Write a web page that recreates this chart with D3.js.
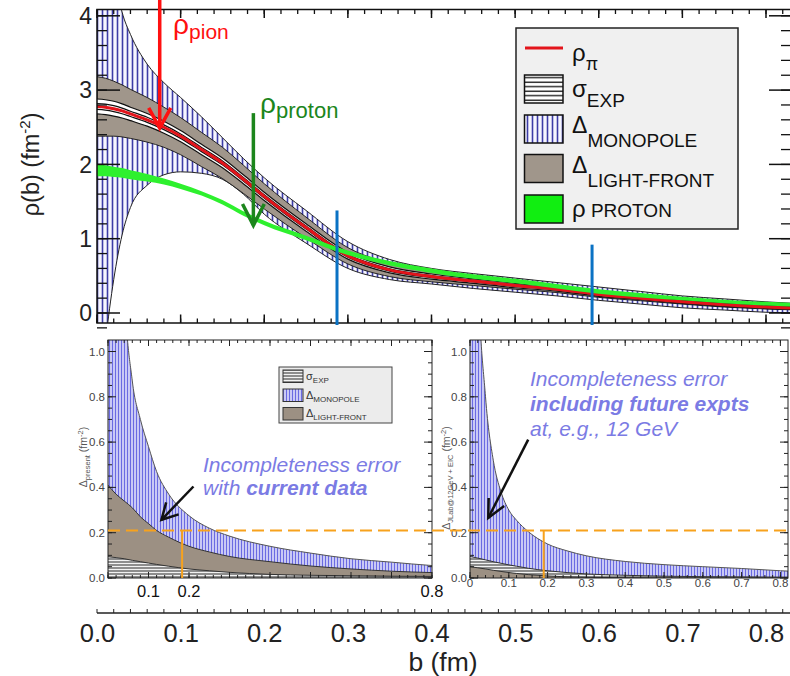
<!DOCTYPE html>
<html>
<head>
<meta charset="utf-8">
<script src="https://cdn.jsdelivr.net/npm/d3@7"></script>
<style>
  body { margin: 0; background: #fff; }
  svg { display: block; }
  text { font-family: "Liberation Sans", Arial, Helvetica, sans-serif; }
</style>
</head>
<body>
<svg id="chart" width="790" height="676"></svg>
<script>
// ---------------- data : pion / proton transverse charge densities ----------------
const bGrid = [0, 0.01, 0.02, 0.03, 0.04, 0.06, 0.08, 0.10, 0.125, 0.15, 0.175, 0.20, 0.25, 0.30, 0.35, 0.40, 0.45, 0.50, 0.55, 0.60, 0.65, 0.70, 0.75, 0.80, 0.85];
const rhoPion = [2.78, 2.77, 2.75, 2.72, 2.68, 2.60, 2.50, 2.38, 2.20, 2.02, 1.80, 1.57, 1.15, 0.77, 0.58, 0.49, 0.43, 0.37, 0.32, 0.25, 0.20, 0.15, 0.11, 0.08, 0.06];
const sigmaLo = [2.68, 2.67, 2.65, 2.625, 2.59, 2.515, 2.42, 2.305, 2.13, 1.955, 1.74, 1.515, 1.10, 0.725, 0.54, 0.455, 0.40, 0.34, 0.295, 0.225, 0.18, 0.13, 0.09, 0.06, 0.04];
const sigmaHi = [2.88, 2.87, 2.85, 2.815, 2.77, 2.685, 2.58, 2.455, 2.27, 2.085, 1.86, 1.625, 1.20, 0.815, 0.62, 0.525, 0.46, 0.40, 0.345, 0.275, 0.22, 0.17, 0.13, 0.10, 0.08];
const lightFrontLo = [2.38, 2.38, 2.38, 2.37, 2.35, 2.30, 2.23, 2.13, 1.97, 1.81, 1.61, 1.40, 1.01, 0.66, 0.49, 0.42, 0.37, 0.32, 0.275, 0.21, 0.165, 0.12, 0.08, 0.055, 0.035];
const lightFrontHi = [3.18, 3.16, 3.12, 3.07, 3.01, 2.90, 2.77, 2.63, 2.43, 2.23, 1.99, 1.74, 1.29, 0.88, 0.67, 0.56, 0.49, 0.42, 0.365, 0.29, 0.235, 0.18, 0.14, 0.105, 0.085];
const monopoleLo = [-1.5, -0.4, 0.45, 1.05, 1.42, 1.72, 1.86, 1.90, 1.88, 1.80, 1.60, 1.33, 0.94, 0.60, 0.45, 0.39, 0.33, 0.28, 0.23, 0.17, 0.12, 0.07, 0.04, 0.01, 0.00];
const monopoleHi = [9.0, 6.5, 4.6, 4.05, 3.75, 3.35, 3.10, 2.90, 2.64, 2.36, 2.08, 1.82, 1.38, 0.96, 0.72, 0.60, 0.53, 0.47, 0.41, 0.35, 0.29, 0.23, 0.19, 0.15, 0.12];
const protonLo = [1.84, 1.84, 1.83, 1.82, 1.80, 1.77, 1.73, 1.67, 1.58, 1.46, 1.31, 1.18, 0.98, 0.78, 0.64, 0.54, 0.46, 0.40, 0.33, 0.26, 0.21, 0.17, 0.13, 0.10, 0.08];
const protonHi = [2.00, 1.99, 1.97, 1.95, 1.92, 1.87, 1.81, 1.74, 1.64, 1.52, 1.37, 1.24, 1.04, 0.84, 0.70, 0.60, 0.52, 0.46, 0.39, 0.32, 0.27, 0.22, 0.18, 0.15, 0.13];

// impact parameters marked by vertical bars, and arrow anchors (b, rho)
const bMarkers = [{ b: 0.287, top: 1.38 }, { b: 0.592, top: 0.92 }];
const pionArrow = { b: 0.075, from: 4.3, to: 2.49 };
const protonArrow = { b: 0.187, from: 2.69, to: 1.18 };

// ---------------- data : incompleteness errors ----------------
const bLow = [0, 0.02, 0.04, 0.06, 0.08, 0.10, 0.12, 0.15, 0.20, 0.25, 0.30, 0.40, 0.50, 0.60, 0.70, 0.80, 0.85];
const monoPresent = [4.0, 2.6, 1.3, 0.87, 0.70, 0.58, 0.47, 0.37, 0.275, 0.22, 0.185, 0.14, 0.11, 0.085, 0.07, 0.055, 0.05];
const lfPresent = [0.41, 0.37, 0.34, 0.31, 0.27, 0.24, 0.21, 0.18, 0.14, 0.115, 0.095, 0.072, 0.053, 0.04, 0.03, 0.024, 0.022];
const sigPresent = [0.094, 0.09, 0.085, 0.078, 0.072, 0.066, 0.06, 0.052, 0.04, 0.032, 0.025, 0.016, 0.012, 0.01, 0.008, 0.007, 0.007];
const monoFuture = [4.0, 1.4, 0.8, 0.52, 0.38, 0.30, 0.255, 0.205, 0.15, 0.12, 0.098, 0.073, 0.059, 0.05, 0.042, 0.032, 0.028];
const sigFuture = [0.095, 0.088, 0.08, 0.072, 0.065, 0.058, 0.052, 0.043, 0.032, 0.024, 0.018, 0.012, 0.008, 0.006, 0.005, 0.004, 0.004];
const lfFuture = [0.05, 0.045, 0.04, 0.034, 0.029, 0.024, 0.02, 0.015, 0.009, 0.005, 0.003, 0.001, 0, 0, 0, 0, 0];
const errorLevel = 0.21;          // dashed reference level
const bCutPresent = 0.183, bCutFuture = 0.19;
const arrowPresent = { from: [0.211, 0.404], to: [0.132, 0.257] };
const arrowFuture = { from: [0.150, 0.611], to: [0.047, 0.265] };

// ---------------- tick values ----------------
const topYTicks = [0, 1, 2, 3, 4];
const topYMinor = d3.range(-0.2, 4.1, 0.2);
const bTicksMajor = [0, 0.1, 0.2, 0.3, 0.4, 0.5, 0.6, 0.7, 0.8];
const bTicksMinor = d3.range(0, 0.84, 0.02);
const lowYTicks = [0, 0.2, 0.4, 0.6, 0.8, 1.0];
const lowYMinor = d3.range(0, 1.05, 0.05);
const leftPanelXLabels = [0.1, 0.2, 0.8];

// ---------------- layout & scales ----------------
const svg = d3.select("#chart");
const defs = svg.append("defs");
const FRAME_TOP = { l: 97, r: 792, t: 9.5, b: 323 };
const xTop = d3.scaleLinear().domain([0, 0.8]).range([97, 766]);
const yTop = d3.scaleLinear().domain([0, 4]).range([313, 15.8]);
const FRAME_L = { l: 108, r: 432, t: 340, b: 578 };
const FRAME_R = { l: 470, r: 788, t: 340, b: 578 };
const xL = d3.scaleLinear().domain([0, 0.8]).range([108, 432]);
const xR = d3.scaleLinear().domain([0, 0.8]).range([470, 780.4]);
const yLow = d3.scaleLinear().domain([0, 1]).range([578, 351.5]);

svg.append("rect").attr("width", 790).attr("height", 676).attr("fill", "#fff");

// ---------------- patterns ----------------
function pattern(id, w, h, bg, lines) {
  const p = defs.append("pattern").attr("id", id).attr("patternUnits", "userSpaceOnUse")
    .attr("width", w).attr("height", h);
  p.append("rect").attr("width", w).attr("height", h).attr("fill", bg);
  lines.forEach(l => p.append("line").attr("x1", l[0]).attr("y1", l[1]).attr("x2", l[2]).attr("y2", l[3])
    .attr("stroke", l[4]).attr("stroke-width", l[5]));
}
pattern("monoTop", 5, 8, "#f6f6ff", [[2.5, 0, 2.5, 8, "#3c3ca6", 1.6]]);
pattern("sigTop", 8, 4.5, "#ffffff", [[0, 1.2, 8, 1.2, "#111", 1.3]]);
pattern("monoLow", 3, 8, "#d4d4f8", [[1.5, 0, 1.5, 8, "#6a6ae2", 1.2]]);
pattern("sigLow", 8, 3, "#f2f2f2", [[0, 1, 8, 1, "#3a3a3a", 1.1]]);

function clip(id, f) {
  defs.append("clipPath").attr("id", id).append("rect")
    .attr("x", f.l).attr("y", f.t).attr("width", f.r - f.l).attr("height", f.b - f.t);
}
clip("clipTop", FRAME_TOP);
clip("clipL", FRAME_L);
clip("clipR", FRAME_R);

// generic inward tick marks on a frame side
function tickMarks(g, scale, values, side, pos, len, color, width) {
  g.append("g").selectAll("line").data(values).join("line")
    .attr("x1", d => (side === "top" || side === "bottom") ? scale(d) : pos)
    .attr("x2", d => (side === "top" || side === "bottom") ? scale(d)
      : pos + (side === "left" ? len : -len))
    .attr("y1", d => (side === "left" || side === "right") ? scale(d) : pos)
    .attr("y2", d => (side === "left" || side === "right") ? scale(d)
      : pos + (side === "top" ? len : -len))
    .attr("stroke", color).attr("stroke-width", width);
}

// ================= TOP PANEL : rho(b) =================
const rows = bGrid.map((b, i) => ({
  b, rho: rhoPion[i], sLo: sigmaLo[i], sHi: sigmaHi[i], lLo: lightFrontLo[i], lHi: lightFrontHi[i],
  mLo: monopoleLo[i], mHi: monopoleHi[i], pLo: protonLo[i], pHi: protonHi[i]
}));
const band = (lo, hi) => d3.area().x(d => xTop(d.b)).y0(d => yTop(d[lo])).y1(d => yTop(d[hi])).curve(d3.curveMonotoneX);
const curve = f => d3.line().x(d => xTop(d.b)).y(d => yTop(f(d))).curve(d3.curveMonotoneX);

const gt = svg.append("g").attr("clip-path", "url(#clipTop)");
// monopole uncertainty (vertical hatching)
gt.append("path").datum(rows).attr("d", band("mLo", "mHi")).attr("fill", "url(#monoTop)");
gt.append("path").datum(rows).attr("d", curve(d => d.mLo)).attr("fill", "none").attr("stroke", "#222").attr("stroke-width", 1);
gt.append("path").datum(rows).attr("d", curve(d => d.mHi)).attr("fill", "none").attr("stroke", "#222").attr("stroke-width", 1);
// light-front uncertainty
gt.append("path").datum(rows).attr("d", band("lLo", "lHi")).attr("fill", "#a0968b")
  .attr("stroke", "#222").attr("stroke-width", 1);
// experimental uncertainty, striped along the curve
gt.append("path").datum(rows).attr("d", band("sLo", "sHi")).attr("fill", "#fff");
[0, 0.3, 0.7, 1].forEach(t => {
  gt.append("path").datum(rows).attr("d", curve(d => d.sLo + t * (d.sHi - d.sLo)))
    .attr("fill", "none").attr("stroke", "#111").attr("stroke-width", 1.2);
});
// pion central density
gt.append("path").datum(rows).attr("d", curve(d => d.rho)).attr("fill", "none")
  .attr("stroke", "#e3141b").attr("stroke-width", 3);
// proton density
gt.append("path").datum(rows).attr("d", band("pLo", "pHi")).attr("fill", "#2ef02e");

// frame and ticks
const ft = svg.append("g");
ft.append("rect").attr("x", FRAME_TOP.l).attr("y", FRAME_TOP.t)
  .attr("width", FRAME_TOP.r - FRAME_TOP.l).attr("height", FRAME_TOP.b - FRAME_TOP.t)
  .attr("fill", "none").attr("stroke", "#111").attr("stroke-width", 1.5);
tickMarks(ft, xTop, bTicksMinor, "bottom", FRAME_TOP.b, 4.5, "#111", 1.3);
tickMarks(ft, xTop, bTicksMajor, "bottom", FRAME_TOP.b, 8.5, "#111", 1.5);
tickMarks(ft, xTop, bTicksMinor, "top", FRAME_TOP.t, 4.5, "#111", 1.3);
tickMarks(ft, xTop, bTicksMajor, "top", FRAME_TOP.t, 8.5, "#111", 1.5);
tickMarks(ft, yTop, topYMinor, "left", FRAME_TOP.l, 10, "#111", 1.3);
tickMarks(ft, yTop, topYTicks, "left", FRAME_TOP.l, 23, "#111", 1.5);
tickMarks(ft, yTop, topYMinor, "right", FRAME_TOP.r, 11, "#111", 1.3);
tickMarks(ft, yTop, topYTicks, "right", FRAME_TOP.r, 23, "#111", 1.5);

// y tick labels
ft.append("g").selectAll("text").data(topYTicks).join("text")
  .attr("x", 92).attr("y", d => yTop(d)).attr("dy", "0.36em")
  .attr("text-anchor", "end").attr("font-size", 23).attr("fill", "#222").text(d => d);

// y title
const yt = ft.append("text").attr("transform", `translate(39,${yTop(2.0)}) rotate(-90)`)
  .attr("text-anchor", "middle").attr("font-size", 23.5).attr("fill", "#222");
yt.append("tspan").text("ρ(b) (fm");
yt.append("tspan").attr("font-size", 15).attr("dy", -9).text("-2");
yt.append("tspan").attr("dy", 9).text(")");

// marker bars
svg.append("g").selectAll("line").data(bMarkers).join("line")
  .attr("x1", d => xTop(d.b)).attr("x2", d => xTop(d.b))
  .attr("y1", d => yTop(d.top)).attr("y2", FRAME_TOP.b + 2)
  .attr("stroke", "#0a72c4").attr("stroke-width", 3);

// arrows with open heads
function arrow(g, x1, y1, x2, y2, color, w, headLen, headAng) {
  g.append("line").attr("x1", x1).attr("y1", y1).attr("x2", x2).attr("y2", y2)
    .attr("stroke", color).attr("stroke-width", w);
  const a = Math.atan2(y1 - y2, x1 - x2);
  const p1 = [x2 + headLen * Math.cos(a + headAng), y2 + headLen * Math.sin(a + headAng)];
  const p2 = [x2 + headLen * Math.cos(a - headAng), y2 + headLen * Math.sin(a - headAng)];
  g.append("polyline").attr("points", [p1, [x2, y2], p2].map(p => p.join(",")).join(" "))
    .attr("fill", "none").attr("stroke", color).attr("stroke-width", w)
    .attr("stroke-linejoin", "miter");
}
const ga = svg.append("g");
arrow(ga, xTop(pionArrow.b), yTop(pionArrow.from), xTop(pionArrow.b), yTop(pionArrow.to), "#ff1010", 3.5, 23, 0.5);
arrow(ga, xTop(protonArrow.b), yTop(protonArrow.from), xTop(protonArrow.b), yTop(protonArrow.to), "#1c861c", 3.5, 24, 0.47);

// curve labels
const lp = ga.append("text").attr("x", xTop(0.091)).attr("y", yTop(3.75)).attr("fill", "#ff1010");
lp.append("tspan").attr("font-size", 28).text("ρ");
lp.append("tspan").attr("font-size", 21).attr("dy", 5).text("pion");
const lpr = ga.append("text").attr("x", xTop(0.195)).attr("y", yTop(2.69)).attr("fill", "#1c861c");
lpr.append("tspan").attr("font-size", 28).text("ρ");
lpr.append("tspan").attr("font-size", 22).attr("dy", 5).text("proton");

// legend
const lg = svg.append("g");
lg.append("rect").attr("x", 516).attr("y", 28).attr("width", 222).attr("height", 201)
  .attr("fill", "#f0f0f0").attr("stroke", "#222").attr("stroke-width", 1.5);
lg.append("line").attr("x1", 525).attr("x2", 563).attr("y1", 48).attr("y2", 48)
  .attr("stroke", "#e3141b").attr("stroke-width", 3);
const swatches = [
  { y: 75, fill: "url(#sigTop)" },
  { y: 115, fill: "url(#monoTop)" },
  { y: 154.5, fill: "#a0968b" },
  { y: 195, fill: "#11ee11" }
];
lg.selectAll("rect.sw").data(swatches).join("rect").attr("class", "sw")
  .attr("x", 524.5).attr("y", d => d.y).attr("width", 38.5).attr("height", 28)
  .attr("fill", d => d.fill).attr("stroke", "#111").attr("stroke-width", 1.5);
function legendText(g, x, y, big, small, dy, bigSize, smallSize) {
  const t = g.append("text").attr("x", x).attr("y", y).attr("fill", "#111");
  t.append("tspan").attr("font-size", bigSize).text(big);
  t.append("tspan").attr("font-size", smallSize).attr("dy", dy).text(small);
  return t;
}
legendText(lg, 572, 61, "ρ", "π", 9, 24, 18);
legendText(lg, 572, 97, "σ", "EXP", 10, 24, 19);
legendText(lg, 572, 133, "Δ", "MONOPOLE", 14, 23, 19);
legendText(lg, 572, 173, "Δ", "LIGHT-FRONT", 14, 23, 19);
legendText(lg, 572, 217, "ρ", " PROTON", 0, 24, 19);

// ================= LOWER PANELS =================
// layerOrder: drawn back to front, each area filled from zero
function lowerPanel(id, frame, xs, mono, lf, sig, layerOrder) {
  const data = bLow.map((b, i) => ({ b, m: mono[i], l: lf[i], s: sig[i] }));
  const g = svg.append("g");
  g.append("rect").attr("x", frame.l).attr("y", frame.t).attr("width", frame.r - frame.l)
    .attr("height", frame.b - frame.t).attr("fill", "#fff");
  const gc = g.append("g").attr("clip-path", `url(#${id})`);
  const area = key => d3.area().x(d => xs(d.b)).y0(yLow(0)).y1(d => yLow(d[key])).curve(d3.curveMonotoneX);
  const edge = key => d3.line().x(d => xs(d.b)).y(d => yLow(d[key])).curve(d3.curveMonotoneX);
  gc.append("path").datum(data).attr("d", area("m")).attr("fill", "url(#monoLow)");
  gc.append("path").datum(data).attr("d", edge("m")).attr("fill", "none").attr("stroke", "#555").attr("stroke-width", 1);
  layerOrder.forEach(k => {
    gc.append("path").datum(data).attr("d", area(k))
      .attr("fill", k === "l" ? "#9c9083" : "url(#sigLow)");
    gc.append("path").datum(data).attr("d", edge(k)).attr("fill", "none").attr("stroke", "#333").attr("stroke-width", 1);
  });
  // frame + ticks
  g.append("rect").attr("x", frame.l).attr("y", frame.t).attr("width", frame.r - frame.l)
    .attr("height", frame.b - frame.t).attr("fill", "none").attr("stroke", "#222").attr("stroke-width", 1);
  const minorX = bTicksMinor.filter(v => xs(v) <= frame.r);
  const majorX = bTicksMajor.filter(v => xs(v) <= frame.r);
  tickMarks(g, xs, minorX, "top", frame.t, 3, "#222", 1);
  tickMarks(g, xs, majorX, "top", frame.t, 6, "#222", 1);
  tickMarks(g, xs, minorX, "bottom", frame.b, 3, "#222", 1);
  tickMarks(g, xs, majorX, "bottom", frame.b, 6, "#222", 1);
  tickMarks(g, yLow, lowYMinor, "left", frame.l, 4, "#222", 1);
  tickMarks(g, yLow, lowYTicks, "left", frame.l, 8, "#222", 1);
  tickMarks(g, yLow, lowYMinor, "right", frame.r, 4, "#222", 1);
  tickMarks(g, yLow, lowYTicks, "right", frame.r, 8, "#222", 1);
  g.append("g").selectAll("text").data(lowYTicks).join("text")
    .attr("x", frame.l - 3).attr("y", d => yLow(d)).attr("dy", "0.35em")
    .attr("text-anchor", "end").attr("font-size", 11.5).attr("fill", "#444").text(d3.format(".1f"));
  return g;
}
const gL = lowerPanel("clipL", FRAME_L, xL, monoPresent, lfPresent, sigPresent, ["l", "s"]);
const gR = lowerPanel("clipR", FRAME_R, xR, monoFuture, lfFuture, sigFuture, ["s", "l"]);

// x labels
gL.append("g").selectAll("text").data(leftPanelXLabels).join("text")
  .attr("x", xL).attr("y", 597).attr("text-anchor", "middle")
  .attr("font-size", 16.5).attr("fill", "#111").text(d3.format(".1f"));
gR.append("g").selectAll("text").data(bTicksMajor).join("text")
  .attr("x", xR).attr("y", 587).attr("text-anchor", "middle")
  .attr("font-size", 11.5).attr("fill", "#444").text(d => d === 0 ? "0" : d3.format(".1f")(d));

// rotated y titles of lower panels
function rotTitle(x, y, sub) {
  const t = svg.append("text").attr("transform", `translate(${x},${y}) rotate(-90)`)
    .attr("text-anchor", "middle").attr("fill", "#555").attr("font-size", 10.5);
  t.append("tspan").text("Δ");
  t.append("tspan").attr("font-size", 7.5).attr("dy", 2.5).text(sub);
  t.append("tspan").attr("dy", -2.5).text(" (fm");
  t.append("tspan").attr("font-size", 7.5).attr("dy", -4).text("-2");
  t.append("tspan").attr("dy", 4).text(")");
}
rotTitle(87, 457, "present");
rotTitle(450, 478, "JLab@12GeV + EIC");

// small legend in the left lower panel
const sl = svg.append("g");
sl.append("rect").attr("x", 279).attr("y", 367).attr("width", 113).attr("height", 56)
  .attr("fill", "#ececec").attr("stroke", "#444").attr("stroke-width", 1);
const smallSw = [
  { y: 370, fill: "url(#sigLow)", big: "σ", sub: "EXP", by: 380 },
  { y: 389, fill: "url(#monoLow)", big: "Δ", sub: "MONOPOLE", by: 399 },
  { y: 407.5, fill: "#9c9083", big: "Δ", sub: "LIGHT-FRONT", by: 416.5 }
];
sl.selectAll("rect.ssw").data(smallSw).join("rect").attr("class", "ssw")
  .attr("x", 283).attr("y", d => d.y).attr("width", 20).attr("height", 12.5)
  .attr("fill", d => d.fill).attr("stroke", "#333").attr("stroke-width", 1);
smallSw.forEach(d => {
  const t = sl.append("text").attr("x", 306).attr("y", d.by).attr("fill", "#333");
  t.append("tspan").attr("font-size", 11).text(d.big);
  t.append("tspan").attr("font-size", 8).attr("dy", 3).text(d.sub);
});

// reference level and cut lines
const go = svg.append("g");
go.append("line").attr("x1", xL(0)).attr("x2", xR(0.82)).attr("y1", yLow(errorLevel)).attr("y2", yLow(errorLevel))
  .attr("stroke", "#f7a21d").attr("stroke-width", 2).attr("stroke-dasharray", "12,6");
go.append("line").attr("x1", xL(bCutPresent)).attr("x2", xL(bCutPresent)).attr("y1", yLow(errorLevel)).attr("y2", yLow(0))
  .attr("stroke", "#f7a21d").attr("stroke-width", 2);
go.append("line").attr("x1", xR(bCutFuture)).attr("x2", xR(bCutFuture)).attr("y1", yLow(errorLevel)).attr("y2", yLow(0))
  .attr("stroke", "#f7a21d").attr("stroke-width", 2);

// annotations
const blue = "#7b7be4";
const t1 = svg.append("g").attr("fill", blue).attr("font-style", "italic").attr("font-size", 21);
t1.append("text").attr("x", 203).attr("y", 472).text("Incompleteness error");
const t1b = t1.append("text").attr("x", 203).attr("y", 495);
t1b.append("tspan").text("with ");
t1b.append("tspan").attr("font-weight", "bold").text("current data");
t1.append("text").attr("x", 530).attr("y", 386).text("Incompleteness error");
t1.append("text").attr("x", 530).attr("y", 411).attr("font-weight", "bold").text("including future expts");
t1.append("text").attr("x", 530).attr("y", 436).text("at, e.g., 12 GeV");

arrow(svg, xL(arrowPresent.from[0]), yLow(arrowPresent.from[1]), xL(arrowPresent.to[0]), yLow(arrowPresent.to[1]), "#111", 2.5, 18, 0.5);
arrow(svg, xR(arrowFuture.from[0]), yLow(arrowFuture.from[1]), xR(arrowFuture.to[0]), yLow(arrowFuture.to[1]), "#111", 2.5, 20, 0.45);

// ================= common b axis =================
const axisY = 613;
const gb = svg.append("g");
gb.append("line").attr("x1", 97).attr("x2", 790).attr("y1", axisY).attr("y2", axisY)
  .attr("stroke", "#222").attr("stroke-width", 1.5);
tickMarks(gb, xTop, bTicksMinor, "bottom", axisY, 4, "#222", 1);
gb.append("g").attr("transform", `translate(0,${axisY})`)
  .call(d3.axisBottom(xTop).tickValues(bTicksMajor).tickFormat(d3.format(".1f")).tickSize(0).tickPadding(11))
  .call(g => g.select(".domain").remove())
  .call(g => g.selectAll("text").attr("font-size", 25.5).attr("fill", "#222")
    .attr("font-family", "'Liberation Sans', Arial, sans-serif"));
gb.append("text").attr("x", 443).attr("y", 671).attr("text-anchor", "middle")
  .attr("font-size", 26.5).attr("fill", "#222").text("b (fm)");
</script>
</body>
</html>
